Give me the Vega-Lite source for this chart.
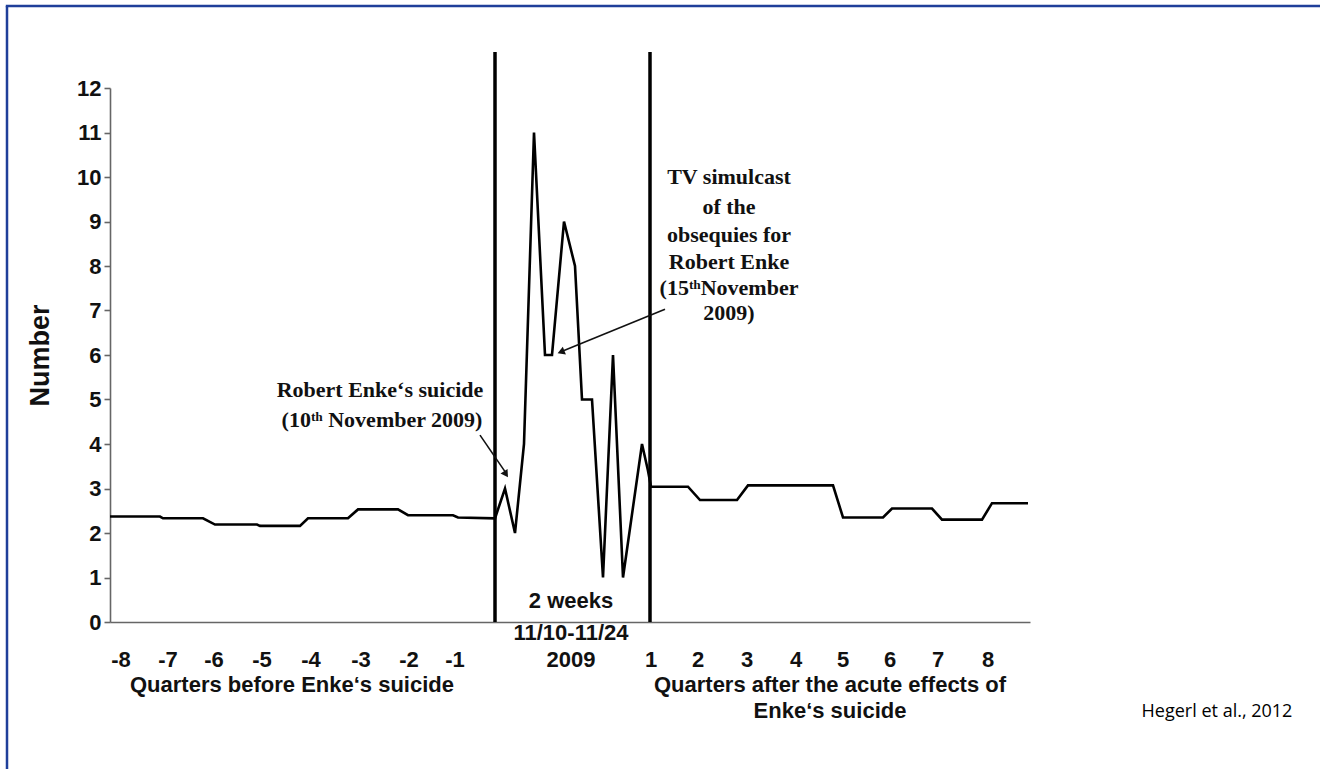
{
  "$schema": "https://vega.github.io/schema/vega-lite/v6.json",
  "width": 920,
  "height": 534,
  "autosize": {"type": "none"},
  "padding": {"left": 110, "top": 88, "right": 290, "bottom": 147},
  "background": "white",
  "config": {"view": {"stroke": null}},
  "datasets": {
    "series": [
      {"t": 0, "v": 2.37}, {"t": 5.0, "v": 2.37}, {"t": 5.3, "v": 2.33}, {"t": 9.3, "v": 2.33},
      {"t": 10.5, "v": 2.19}, {"t": 14.7, "v": 2.19}, {"t": 15.0, "v": 2.16}, {"t": 19.0, "v": 2.16},
      {"t": 19.8, "v": 2.33}, {"t": 23.8, "v": 2.33}, {"t": 24.8, "v": 2.53}, {"t": 28.8, "v": 2.53},
      {"t": 29.8, "v": 2.4}, {"t": 34.3, "v": 2.4}, {"t": 34.8, "v": 2.35}, {"t": 38.5, "v": 2.33},
      {"t": 39.5, "v": 3}, {"t": 40.5, "v": 2}, {"t": 41.4, "v": 4}, {"t": 42.4, "v": 11},
      {"t": 43.5, "v": 6}, {"t": 44.2, "v": 6}, {"t": 45.4, "v": 9}, {"t": 46.5, "v": 8},
      {"t": 47.2, "v": 5}, {"t": 48.2, "v": 5}, {"t": 49.3, "v": 1}, {"t": 50.3, "v": 6},
      {"t": 51.3, "v": 1}, {"t": 53.2, "v": 4}, {"t": 53.8, "v": 3.4}, {"t": 54.1, "v": 3.04},
      {"t": 57.8, "v": 3.04}, {"t": 59.0, "v": 2.74}, {"t": 62.7, "v": 2.74}, {"t": 63.8, "v": 3.07},
      {"t": 72.3, "v": 3.07}, {"t": 73.3, "v": 2.35}, {"t": 77.3, "v": 2.35}, {"t": 78.2, "v": 2.55},
      {"t": 82.2, "v": 2.55}, {"t": 83.2, "v": 2.3}, {"t": 87.2, "v": 2.3}, {"t": 88.2, "v": 2.67},
      {"t": 91.8, "v": 2.67}
    ],
    "segments": [
      {"kind": "border", "t": -10.3, "v": -3.4, "t2": -10.3, "v2": 13.84},
      {"kind": "border", "t": -10.42, "v": 13.84, "t2": 121.5, "v2": 13.84},
      {"kind": "separator", "t": 38.5, "v": 0, "t2": 38.5, "v2": 12.81},
      {"kind": "separator", "t": 54.0, "v": 0, "t2": 54.0, "v2": 12.81},
      {"kind": "arrow", "t": 37.0, "v": 4.2, "t2": 39.5, "v2": 3.38},
      {"kind": "arrow", "t": 55.5, "v": 7.03, "t2": 45.4, "v2": 6.1}
    ],
    "heads": [
      {"t": 39.6, "v": 3.32, "angle": 147},
      {"t": 45.1, "v": 6.07, "angle": 248}
    ],
    "sans": [
      {"label": "-8", "t": 1.1, "v": -0.854},
      {"label": "-7", "t": 5.8, "v": -0.854},
      {"label": "-6", "t": 10.4, "v": -0.854},
      {"label": "-5", "t": 15.2, "v": -0.854},
      {"label": "-4", "t": 20.1, "v": -0.854},
      {"label": "-3", "t": 25.1, "v": -0.854},
      {"label": "-2", "t": 29.9, "v": -0.854},
      {"label": "-1", "t": 34.5, "v": -0.854},
      {"label": "2009", "t": 46.1, "v": -0.854},
      {"label": "1", "t": 54.1, "v": -0.854},
      {"label": "2", "t": 58.8, "v": -0.854},
      {"label": "3", "t": 63.7, "v": -0.854},
      {"label": "4", "t": 68.6, "v": -0.854},
      {"label": "5", "t": 73.3, "v": -0.854},
      {"label": "6", "t": 78.0, "v": -0.854},
      {"label": "7", "t": 82.8, "v": -0.854},
      {"label": "8", "t": 87.8, "v": -0.854},
      {"label": "11/10-11/24", "t": 46.1, "v": -0.247},
      {"label": "2 weeks", "t": 46.1, "v": 0.472},
      {"label": "Quarters before Enke‘s suicide", "t": 18.2, "v": -1.416},
      {"label": "Quarters after the acute effects of", "t": 72.0, "v": -1.416},
      {"label": "Enke‘s suicide", "t": 72.0, "v": -2.0}
    ],
    "serif": [
      {"label": "Robert Enke‘s suicide", "t": 27.0, "v": 5.21},
      {"label": "(10ᵗʰ November 2009)", "t": 27.2, "v": 4.54},
      {"label": "TV simulcast", "t": 61.9, "v": 10.0},
      {"label": "of the", "t": 61.9, "v": 9.33},
      {"label": "obsequies for", "t": 61.9, "v": 8.7},
      {"label": "Robert Enke", "t": 61.9, "v": 8.09},
      {"label": "(15ᵗʰNovember", "t": 61.9, "v": 7.51},
      {"label": "2009)", "t": 61.9, "v": 6.94}
    ],
    "credit": [
      {"label": "Hegerl et al., 2012", "t": 110.7, "v": -2.02}
    ]
  },
  "encoding": {
    "x": {
      "field": "t", "type": "quantitative",
      "scale": {"domain": [0, 92], "nice": false, "zero": false},
      "axis": {"ticks": false, "labels": false, "title": null, "grid": false, "domainColor": "#666", "domainWidth": 1.6}
    },
    "y": {
      "field": "v", "type": "quantitative",
      "scale": {"domain": [0, 12], "nice": false, "zero": false},
      "axis": {
        "values": [0, 1, 2, 3, 4, 5, 6, 7, 8, 9, 10, 11, 12],
        "format": "d",
        "title": "Number",
        "titleFont": "Liberation Sans", "titleFontSize": 27, "titleFontWeight": "bold", "titleColor": "#111",
        "titlePadding": 22,
        "labelFont": "Liberation Sans", "labelFontSize": 22, "labelFontWeight": "bold", "labelColor": "#111",
        "labelPadding": 3,
        "tickSize": 6, "tickColor": "#666", "tickWidth": 1.6,
        "domainColor": "#666", "domainWidth": 1.6,
        "grid": false
      }
    }
  },
  "layer": [
    {
      "data": {"name": "segments"},
      "transform": [{"filter": "datum.kind === 'border'"}],
      "mark": {"type": "rule", "color": "#1f3f9a", "strokeWidth": 2.5},
      "encoding": {"x2": {"field": "t2"}, "y2": {"field": "v2"}}
    },
    {
      "data": {"name": "segments"},
      "transform": [{"filter": "datum.kind === 'separator'"}],
      "mark": {"type": "rule", "color": "#000", "strokeWidth": 3.5},
      "encoding": {"x2": {"field": "t2"}, "y2": {"field": "v2"}}
    },
    {
      "data": {"name": "series"},
      "mark": {"type": "line", "color": "#000", "strokeWidth": 2.6},
      "encoding": {}
    },
    {
      "data": {"name": "segments"},
      "transform": [{"filter": "datum.kind === 'arrow'"}],
      "mark": {"type": "rule", "color": "#111", "strokeWidth": 1.6},
      "encoding": {"x2": {"field": "t2"}, "y2": {"field": "v2"}}
    },
    {
      "data": {"name": "heads"},
      "mark": {"type": "point", "shape": "triangle-up", "filled": true, "color": "#111", "size": 70, "opacity": 1},
      "encoding": {"angle": {"field": "angle", "type": "quantitative", "scale": null}}
    },
    {
      "data": {"name": "sans"},
      "mark": {"type": "text", "font": "Liberation Sans", "fontSize": 22, "fontWeight": "bold", "color": "#111", "align": "center", "baseline": "middle"},
      "encoding": {"text": {"field": "label"}}
    },
    {
      "data": {"name": "serif"},
      "mark": {"type": "text", "font": "Liberation Serif", "fontSize": 22, "fontWeight": "bold", "color": "#111", "align": "center", "baseline": "middle"},
      "encoding": {"text": {"field": "label"}}
    },
    {
      "data": {"name": "credit"},
      "mark": {"type": "text", "font": "Open Sans", "fontSize": 18, "color": "#000", "align": "center", "baseline": "middle"},
      "encoding": {"text": {"field": "label"}}
    }
  ]
}
